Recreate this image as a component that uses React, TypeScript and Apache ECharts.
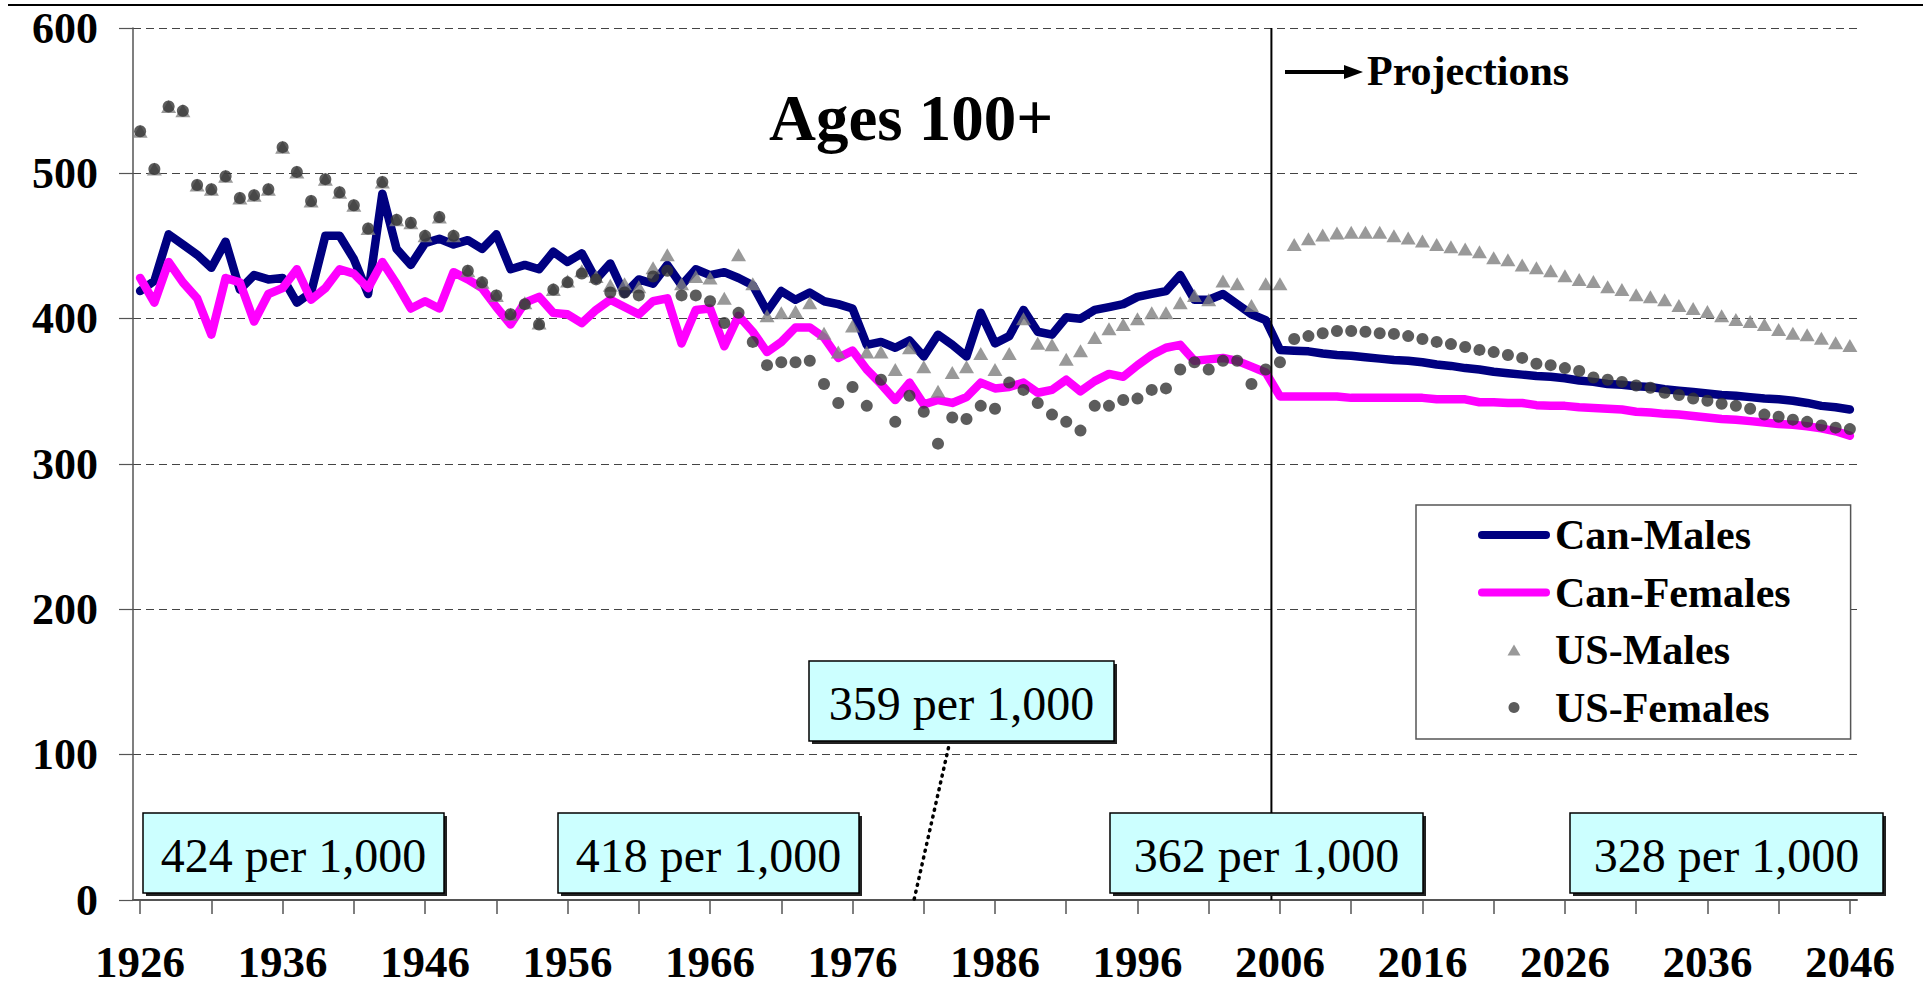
import React, { useEffect, useRef } from 'react';
import * as echarts from 'echarts';

const FONT = "'Liberation Serif', 'Times New Roman', serif";

const years: string[] = Array.from({ length: 121 }, (_, i) => String(1926 + i));

const canMales = [
  419, 426, 458, 451, 444, 435, 453, 420, 430, 427,
  428, 411, 418, 457, 457, 441, 417, 486, 448, 437,
  452, 455, 451, 454, 448, 458, 434, 437, 434, 446,
  439, 445, 427, 438, 417, 427, 424, 437, 423, 434,
  430, 432, 428, 423, 405, 419, 413, 418, 412, 410,
  407, 382, 384, 380, 385, 374, 389, 382, 374, 404,
  383, 388, 406, 391, 389, 401, 400, 406, 408, 410,
  415, 417, 419, 430, 413, 413, 417, 410, 403, 399,
  378.5, 378, 377.5, 376, 375, 374.5, 373.5, 372.5, 371.5, 371,
  370, 368.5, 367.5, 366, 365, 363.5, 362.5, 361.5, 360.5, 360,
  359, 357.5, 356.5, 355, 354.5, 353.5, 353, 351.5, 350.5, 349.5,
  348.5, 347.5, 347, 346, 345, 344.5, 343.5, 342, 340, 339,
  337.5,
];

const canFemales = [
  428, 411, 439, 425, 414, 389, 428, 425, 398, 417,
  421, 434, 413, 421, 434, 431, 421, 439, 424, 407,
  412, 407, 432, 427, 421, 408, 396, 411, 415, 404,
  403, 397, 406, 413, 408, 403, 412, 414, 383, 406,
  407, 381, 402, 391, 377, 384, 394, 394, 387, 373,
  378, 365, 355, 344, 356, 341, 344, 342, 346, 356,
  352, 353, 356, 349, 351, 358, 350, 357, 362, 360,
  368, 375, 380, 382, 371, 372, 373, 371, 367, 363,
  346.5, 346.5, 346.5, 346.5, 346.5, 345.5, 345.5, 345.5, 345.5, 345.5,
  345.5, 344.5, 344.5, 344.5, 342.5, 342.5, 342, 342, 340.5, 340,
  340, 339, 338.5, 338, 337.5, 336, 335.5, 334.5, 334, 333,
  332, 331, 330.5, 329.5, 328.5, 327.5, 327, 326, 324.5, 322.5,
  319.5,
];

const usMales = [
  529, 503, 546, 543, 492, 489, 498, 483, 485, 489,
  518, 501, 481, 496, 487, 478, 462, 494, 468, 466,
  457, 470, 457, 433, 425, 416, 403, 411, 397, 420,
  426, 433, 429, 423, 424, 422, 435, 444, 424, 429,
  428, 414, 444, 424, 402, 404, 405, 411, 390, 377,
  395, 377, 377, 365, 380, 367, 350, 363, 367, 376,
  365, 376, 400, 383, 382, 372, 378, 387, 393, 396,
  400, 404, 404, 411, 416, 413, 426, 424, 409, 424,
  424, 451, 455, 457.5, 459, 459.5, 459.5, 459.5, 457, 455.5,
  453.5, 451, 449.5, 448, 446, 442, 440.5, 437, 435, 433,
  429.5, 427, 425.5, 422, 420, 416.5, 415, 413, 409, 407,
  405, 402, 399.5, 398, 396, 392.5, 390, 389, 386.5, 383.5,
  381.5,
];

const usFemales = [
  529, 503, 546, 543, 492, 489, 498, 483, 485, 489,
  518, 501, 481, 496, 487, 478, 462, 494, 468, 466,
  457, 470, 457, 433, 425, 416, 403, 410, 396, 420,
  425, 431, 427, 418, 418, 416, 429, 433, 416, 416,
  412, 397, 404, 384, 368, 370, 370, 371, 355, 342,
  353, 340, 358, 329, 347, 336, 314, 332, 331, 340,
  338, 356, 351, 342, 334, 329, 323, 340, 340, 344,
  345, 351, 352, 365, 370, 365, 371, 371, 355, 365,
  370, 386, 388, 390, 391.5, 391.5, 391, 390, 389.5, 388,
  386, 384, 382.5, 380.5, 378.5, 377, 375, 373, 369, 368,
  366, 364, 359.5, 358, 356.5, 354, 352.5, 349, 347.5, 345,
  343.5, 341.5, 340, 338, 334, 332.5, 330.5, 329, 326.5, 325,
  324,
];

const seriesNames = ['Can-Males', 'Can-Females', 'US-Males', 'US-Females'];

const notes = [
  { text: '424 per 1,000', x: 143, y: 813, w: 301, h: 80 },
  { text: '418 per 1,000', x: 558, y: 813, w: 301, h: 80 },
  { text: '362 per 1,000', x: 1110, y: 813, w: 313, h: 80 },
  { text: '328 per 1,000', x: 1570, y: 813, w: 313, h: 80 },
  { text: '359 per 1,000', x: 809, y: 661, w: 305, h: 80 },
];

const LINE_ICON = 'path://M4,0 L68,0 A4,4 0 0 1 68,8 L4,8 A4,4 0 0 1 4,0 Z';
const TRI_ICON = 'path://M6.5,0 L13,11 L0,11 Z';

function staticGraphics(): any[] {
  const g: any[] = [];
  g.push({
    type: 'line', z: 20,
    shape: { x1: 8, y1: 5, x2: 1923, y2: 5 },
    style: { stroke: '#000', lineWidth: 2 },
  });
  g.push({
    type: 'text', z: 20, x: 769, y: 118,
    style: { text: 'Ages 100+', fontSize: 65, fontWeight: 'bold', fontFamily: FONT, fill: '#000', align: 'left', verticalAlign: 'middle' },
  });
  g.push({
    type: 'line', z: 20,
    shape: { x1: 1285, y1: 72, x2: 1350, y2: 72 },
    style: { stroke: '#000', lineWidth: 4 },
  });
  g.push({
    type: 'polygon', z: 20,
    shape: { points: [[1344, 65], [1363, 72], [1344, 79]] },
    style: { fill: '#000' },
  });
  g.push({
    type: 'text', z: 20, x: 1367, y: 71,
    style: { text: 'Projections', fontSize: 42, fontWeight: 'bold', fontFamily: FONT, fill: '#000', align: 'left', verticalAlign: 'middle' },
  });
  g.push({
    type: 'line', z: 8,
    shape: { x1: 950, y1: 741, x2: 914, y2: 900 },
    style: { stroke: '#000', lineWidth: 3.5, lineDash: [1, 6], lineCap: 'round' },
  });
  notes.forEach((n) => {
    g.push({
      type: 'rect', z: 9,
      shape: { x: n.x + 3, y: n.y + 3, width: n.w, height: n.h },
      style: { fill: '#222' },
    });
    g.push({
      type: 'rect', z: 10,
      shape: { x: n.x, y: n.y, width: n.w, height: n.h },
      style: { fill: '#ccffff', stroke: '#000', lineWidth: 1.5 },
    });
    g.push({
      type: 'text', z: 11, x: n.x + n.w / 2, y: n.y + n.h / 2 + 2,
      style: { text: n.text, fontSize: 48, fontFamily: FONT, fill: '#000', align: 'center', verticalAlign: 'middle' },
    });
  });
  return g;
}

export default function App() {
  const ref = useRef<HTMLDivElement>(null);
  useEffect(() => {
    document.body.style.margin = '0';
    const chart = echarts.init(ref.current!, null, { renderer: 'svg' });
    const option: any = {
      animation: false,
      grid: { left: 133, right: 66, top: 28, bottom: 85, containLabel: false },
      legend: {
        orient: 'vertical',
        left: 1416,
        top: 505,
        data: [
          { name: seriesNames[0], icon: LINE_ICON },
          { name: seriesNames[1], icon: LINE_ICON },
          { name: seriesNames[2], icon: TRI_ICON },
          { name: seriesNames[3], icon: 'circle' },
        ],
        itemWidth: 72,
        itemHeight: 11,
        itemGap: 11.5,
        symbolKeepAspect: true,
        padding: [7, 60, 8.5, 62],
        backgroundColor: '#fff',
        borderColor: '#555',
        borderWidth: 1.5,
        selectedMode: false,
        itemStyle: { borderWidth: 0 },
        textStyle: { fontSize: 42, fontWeight: 'bold', fontFamily: FONT, color: '#000', lineHeight: 46 },
      },
      xAxis: {
        type: 'category',
        data: years,
        boundaryGap: true,
        axisLine: { show: true, lineStyle: { color: '#555', width: 2 } },
        axisTick: { show: true, alignWithLabel: true, interval: 4, length: 14, lineStyle: { color: '#555', width: 1.5 } },
        axisLabel: { interval: 9, margin: 39, fontSize: 45, fontWeight: 'bold', fontFamily: FONT, color: '#000' },
        splitLine: { show: false },
      },
      yAxis: {
        type: 'value',
        min: 0,
        max: 600,
        interval: 100,
        axisLine: { show: true, lineStyle: { color: '#555', width: 1.5 } },
        axisTick: { show: true, length: 14, lineStyle: { color: '#555', width: 1.2 } },
        axisLabel: { margin: 35, fontSize: 44, fontWeight: 'bold', fontFamily: FONT, color: '#000' },
        splitLine: { show: true, lineStyle: { color: '#444', width: 1.2, type: [8, 5] } },
      },
      series: [
        {
          name: seriesNames[0], type: 'line', data: canMales, symbol: 'none', z: 2,
          lineStyle: { color: '#000080', width: 8.5, cap: 'round', join: 'round' }, itemStyle: { color: '#000080' },
        },
        {
          name: seriesNames[1], type: 'line', data: canFemales, symbol: 'none', z: 2,
          lineStyle: { color: '#ff00ff', width: 8.5, cap: 'round', join: 'round' }, itemStyle: { color: '#ff00ff' },
        },
        {
          name: seriesNames[2], type: 'scatter', data: usMales, symbol: 'triangle', symbolSize: [15, 13], z: 3,
          itemStyle: { color: '#808080' },
        },
        {
          name: seriesNames[3], type: 'scatter', data: usFemales, symbol: 'circle', symbolSize: 12, z: 4,
          itemStyle: { color: '#333333' },
        },
      ],
      graphic: staticGraphics(),
    };
    chart.setOption(option);
    const x05 = chart.convertToPixel({ xAxisIndex: 0 }, '2005') as number;
    const x06 = chart.convertToPixel({ xAxisIndex: 0 }, '2006') as number;
    const yTop = chart.convertToPixel({ yAxisIndex: 0 }, 600) as number;
    const yBot = chart.convertToPixel({ yAxisIndex: 0 }, 0) as number;
    const lx = x05 + 0.4 * (x06 - x05);
    const g = staticGraphics();
    g.unshift({
      type: 'line', z: 5,
      shape: { x1: lx, y1: yTop, x2: lx, y2: yBot },
      style: { stroke: '#000', lineWidth: 2 },
    });
    chart.setOption({ graphic: g }, { replaceMerge: ['graphic'] });
    return () => chart.dispose();
  }, []);
  return <div ref={ref} style={{ width: 1923, height: 985 }} />;
}
